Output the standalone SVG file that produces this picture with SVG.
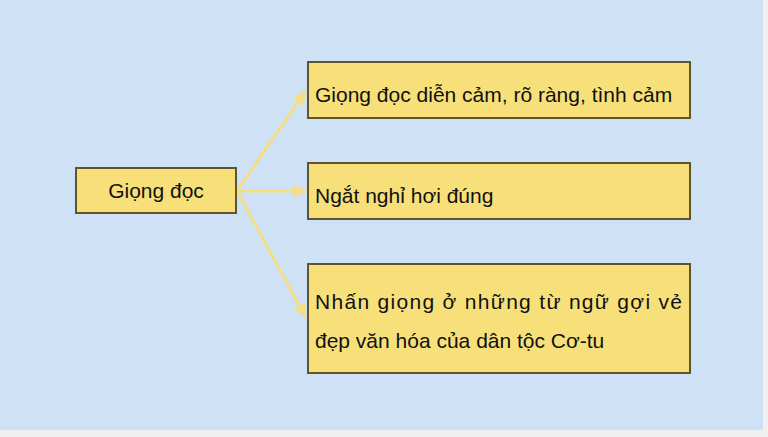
<svg xmlns="http://www.w3.org/2000/svg" width="768" height="437" viewBox="0 0 768 437">
<defs>
<style>
.box{fill:#f7e07a;stroke:#5e5530;stroke-width:2}
.t{font-family:"Liberation Sans",Arial,sans-serif;font-size:21px;fill:#111}
.c{stroke:#f3dd85;stroke-width:3;fill:none}
</style>
<marker id="ah" markerWidth="6" markerHeight="6" refX="4" refY="3" orient="auto" markerUnits="strokeWidth">
<path d="M0,0.8 L5,3 L0,5.2 Z" fill="#f3dd85"/>
</marker>
</defs>
<rect x="0" y="0" width="768" height="437" fill="#f0f0f0"/>
<rect x="0" y="0" width="763" height="430" fill="#cfe2f5"/>
<g id="connectors">
<line class="c" x1="237" y1="191" x2="305" y2="92" marker-end="url(#ah)"/>
<line class="c" x1="237" y1="191" x2="305" y2="191" marker-end="url(#ah)"/>
<line class="c" x1="237" y1="191" x2="305" y2="316" marker-end="url(#ah)"/>
</g>
<g id="root">
<rect class="box" x="76" y="168" width="160" height="45"/>
<text class="t" x="156" y="198" text-anchor="middle">Giọng đọc</text>
</g>
<g id="n1">
<rect class="box" x="308" y="62" width="382" height="56"/>
<text class="t" x="315" y="102">Giọng đọc diễn cảm, rõ ràng, tình cảm</text>
</g>
<g id="n2">
<rect class="box" x="308" y="163" width="382" height="56"/>
<text class="t" x="315" y="203">Ngắt nghỉ hơi đúng</text>
</g>
<g id="n3">
<rect class="box" x="308" y="264" width="382" height="109"/>
<text class="t" x="315" y="309" textLength="367" lengthAdjust="spacing">Nhấn giọng ở những từ ngữ gợi vẻ</text>
<text class="t" x="315" y="348">đẹp văn hóa của dân tộc Cơ-tu</text>
</g>
</svg>
